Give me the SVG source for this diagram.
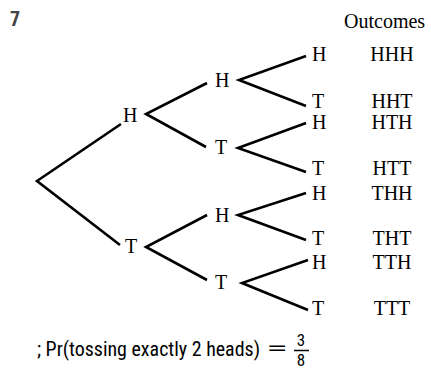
<svg xmlns="http://www.w3.org/2000/svg" width="431" height="371" viewBox="0 0 431 371">
<style>
.lbl{font-family:"Liberation Serif","Times New Roman",serif;font-size:20px;fill:#000}
.out{font-family:"Liberation Serif","Times New Roman",serif;font-size:20px;fill:#000;text-anchor:middle}
.sans{font-family:"Liberation Sans Narrow","Roboto Condensed","Liberation Sans",Arial,sans-serif;font-size:19.5px;fill:#000}
.frac{font-family:"Liberation Sans Narrow","Roboto Condensed","Liberation Sans",Arial,sans-serif;font-size:17px;fill:#000;text-anchor:middle}
.edge{stroke:#000;stroke-width:2.6;fill:none}
</style>
<rect width="431" height="371" fill="#fff"/>
<text x="10" y="26" class="sans" style="font-weight:bold;fill:#444;font-size:20px">7</text>
<text x="344" y="28" class="lbl">Outcomes</text>
<g id="connectors">
<path class="edge" d="M121,124 L37,181 L120,245"/>
<path class="edge" d="M207,83 L146,114 L206,147"/>
<path class="edge" d="M207,215 L146,247 L207,280"/>
<path class="edge" d="M306,56 L239,80 L306,106"/>
<path class="edge" d="M306,123 L238,148 L306,172"/>
<path class="edge" d="M306,193 L238,215 L306,240"/>
<path class="edge" d="M308,260 L242,283 L308,310"/>
</g>
<g id="n-H"><text x="123" y="122" class="lbl">H</text></g>
<g id="n-T"><text x="125" y="253" class="lbl">T</text></g>
<g id="n-HH"><text x="215" y="87" class="lbl">H</text></g>
<g id="n-HT"><text x="215" y="154" class="lbl">T</text></g>
<g id="n-TH"><text x="215" y="222" class="lbl">H</text></g>
<g id="n-TT"><text x="215" y="289" class="lbl">T</text></g>
<g id="n-HHH"><text x="312" y="61" class="lbl">H</text><text x="392" y="61" class="out">HHH</text></g>
<g id="n-HHT"><text x="312" y="108" class="lbl">T</text><text x="392" y="108" class="out">HHT</text></g>
<g id="n-HTH"><text x="312" y="129" class="lbl">H</text><text x="392" y="129" class="out">HTH</text></g>
<g id="n-HTT"><text x="312" y="175" class="lbl">T</text><text x="392" y="175" class="out">HTT</text></g>
<g id="n-THH"><text x="312" y="200" class="lbl">H</text><text x="392" y="200" class="out">THH</text></g>
<g id="n-THT"><text x="312" y="245" class="lbl">T</text><text x="392" y="245" class="out">THT</text></g>
<g id="n-TTH"><text x="312" y="269" class="lbl">H</text><text x="392" y="269" class="out">TTH</text></g>
<g id="n-TTT"><text x="312" y="315" class="lbl">T</text><text x="392" y="315" class="out">TTT</text></g>
<text x="37" y="356" class="sans" textLength="223" lengthAdjust="spacingAndGlyphs">; Pr(tossing exactly 2 heads)</text>
<text x="266" y="355" class="sans" textLength="22" lengthAdjust="spacingAndGlyphs">=</text>
<text x="301" y="346" class="frac">3</text>
<line x1="294" y1="350.5" x2="309" y2="350.5" stroke="#000" stroke-width="1.5"/>
<text x="301" y="366" class="frac">8</text>
</svg>
